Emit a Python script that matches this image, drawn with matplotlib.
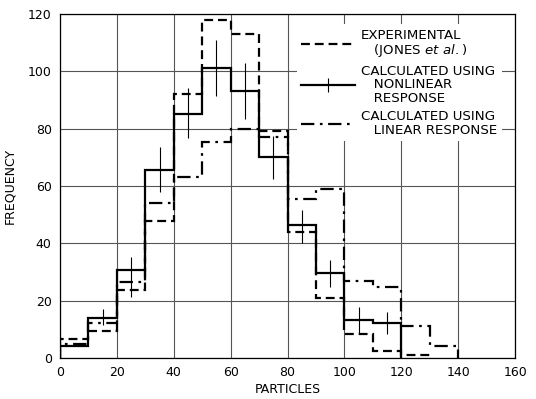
import matplotlib
matplotlib.use("Agg")
import matplotlib.pyplot as plt
import numpy as np
from matplotlib.legend_handler import HandlerTuple
from matplotlib.lines import Line2D

plt.rcParams['font.family'] = ['DejaVu Sans']

# bin edges (particles)
edges_nonlinear = [0, 10, 20, 30, 40, 50, 60, 70, 80, 90, 100, 110, 120]
edges_experimental = [0, 10, 20, 30, 40, 50, 60, 70, 80, 90, 100, 110, 120, 130]
edges_linear = [0, 10, 20, 30, 40, 50, 60, 70, 80, 90, 100, 110, 120, 130, 140]

# frequencies
experimental = [6.7, 9.4, 23.7, 47.6, 92, 118, 113, 79, 44, 21, 8.2, 2.4, 1.0]
nonlinear = [4, 14, 30.5, 65.5, 85, 101, 93, 70, 46.4, 29.5, 13.2, 12.2]
linear = [5, 12.3, 26.5, 54, 63, 75.5, 80, 77, 55.5, 59, 26.7, 24.7, 11.2, 4.1]

# error bars on nonlinear calculation
err_x = [15, 25, 35, 45, 55, 65, 75, 85, 95, 105, 115]
err_lo = [11.5, 21.2, 58, 76.6, 91.5, 83.3, 62.4, 40, 24.9, 8.8, 8.2]
err_hi = [17, 35.1, 73.5, 94, 111, 103, 77.5, 51.6, 34.2, 17.6, 16.1]

xticks = [0, 20, 40, 60, 80, 100, 120, 140, 160]
yticks = [0, 20, 40, 60, 80, 100, 120]

fig = plt.figure(figsize=(5.36, 3.99), dpi=100)
ax = fig.add_axes([0.112, 0.103, 0.849, 0.862])

lw = 1.6
ls_exp = (0, (4, 2.2))
ls_lin = (0, (6, 2.5, 1.2, 2.5))
ax.stairs(experimental, edges_experimental, baseline=0, color='black',
          linewidth=lw, linestyle=ls_exp)
ax.stairs(nonlinear, edges_nonlinear, baseline=0, color='black',
          linewidth=lw, linestyle='-')
ax.stairs(linear, edges_linear, baseline=0, color='black',
          linewidth=lw, linestyle=ls_lin)
err_mid = [(a + b) / 2 for a, b in zip(err_lo, err_hi)]
err_half = [(b - a) / 2 for a, b in zip(err_lo, err_hi)]
h_err = ax.errorbar(err_x, err_mid, yerr=err_half, fmt='none', ecolor='black',
                    elinewidth=0.8, capsize=0)

ax.set_xlim(0, 160)
ax.set_ylim(0, 120)
ax.set_xticks(xticks)
ax.set_yticks(yticks)
ax.grid(True, color='#555555', linewidth=0.8)
ax.set_axisbelow(True)
ax.tick_params(length=0, pad=6, labelsize=9)
for s in ax.spines.values():
    s.set_linewidth(0.9)

ax.set_xlabel('PARTICLES', fontsize=9, labelpad=3)
ax.set_ylabel('FREQUENCY', fontsize=9, labelpad=8)

p_exp = Line2D([], [], color='black', linewidth=lw, linestyle=ls_exp)
p_non = Line2D([], [], color='black', linewidth=lw, linestyle='-')
p_lin = Line2D([], [], color='black', linewidth=lw, linestyle=ls_lin)

leg = ax.legend([p_exp, (p_non, h_err), p_lin],
                ['EXPERIMENTAL\n   (JONES $\\it{et\\ al.}$)',
                 'CALCULATED USING\n   NONLINEAR\n   RESPONSE',
                 'CALCULATED USING\n   LINEAR RESPONSE'],
                handler_map={tuple: HandlerTuple(ndivide=1)},
                loc='upper right', bbox_to_anchor=(0.985, 0.99),
                fontsize=9.6, handlelength=4.0, handletextpad=0.45,
                labelspacing=0.4, frameon=True, fancybox=False,
                facecolor='white', edgecolor='none', framealpha=1,
                borderpad=0.35)
for t in leg.get_texts():
    t.set_multialignment('left')
    t.set_linespacing(1.05)

fig.savefig('out.png', dpi=100)
